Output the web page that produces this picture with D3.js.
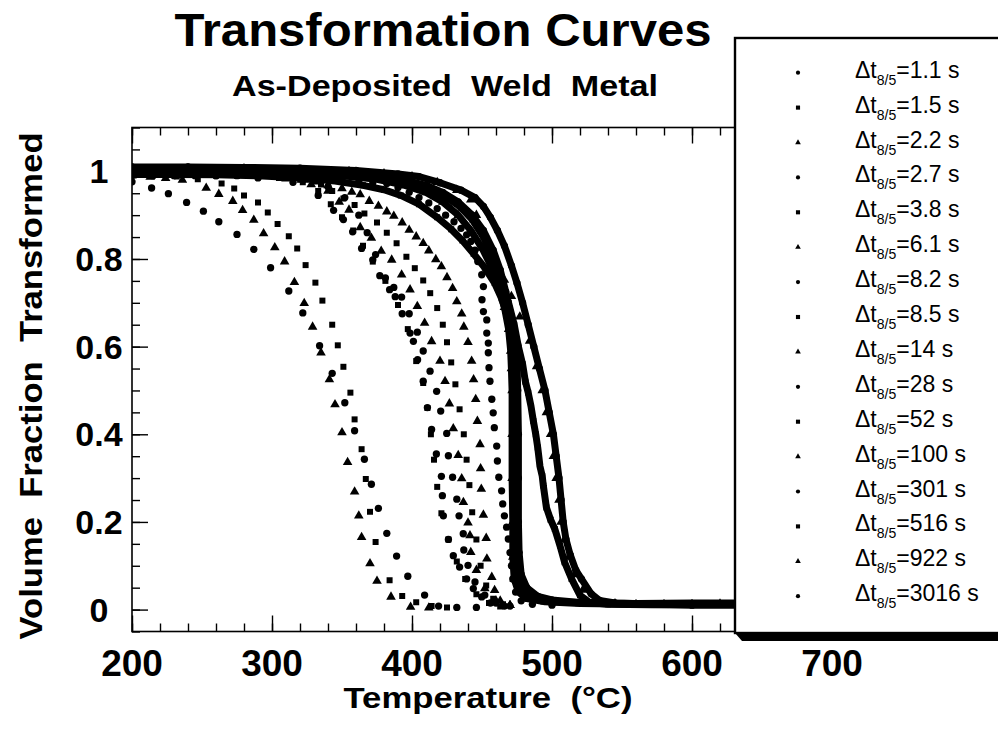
<!DOCTYPE html>
<html>
<head>
<meta charset="utf-8">
<script src="https://cdn.jsdelivr.net/npm/d3@7"></script>
<style>
  html, body { margin: 0; padding: 0; background: #fff; }
  svg { display: block; }
</style>
</head>
<body>
<svg id="chart" width="998" height="732"></svg>
<script>
// Cooling times (Δt 8/5) shown in the legend, in plotting order
const coolingTimes = ["1.1", "1.5", "2.2", "2.7", "3.8", "6.1", "8.2", "8.5", "14",
                      "28", "52", "100", "301", "516", "922", "3016"];
// Marker shape for each cooling time
const markerShapes = ["circle", "square", "triangle", "circle", "square", "triangle", "circle", "square",
                      "triangle", "circle", "square", "triangle", "circle", "square", "triangle", "circle"];
// Runs recorded so densely that the markers fuse into a solid trace
const denseRuns = ["52", "100", "301", "516", "3016"];

// [temperature °C, volume fraction transformed]
const dt1_1 = [[200,.976],[214,.962],[226,.949],[239,.929],[251,.909],[262,.885],[275,.856],[287,.822],[299,.780],[312,.727],[322,.677],[334,.602],[343,.539],[352,.472],[359,.408],[366,.343],[371,.286],[376,.231],[382,.174],[389,.122],[397,.076],[409,.033],[419,.008],[432,.005],[446,.005]];
const dt1_5 = [[205,.995],[218,.992],[232,.988],[247,.982],[264,.972],[273,.961],[280,.945],[290,.929],[297,.906],[304,.880],[312,.852],[318,.824],[324,.786],[331,.746],[336,.705],[343,.650],[347,.603],[351,.554],[356,.495],[359,.434],[364,.366],[367,.298],[370,.223],[374,.154],[384,.067],[393,.031],[403,.017],[414,.008],[425,.005]];
const dt2_2 = [[200,.99],[213,.987],[224,.984],[236,.980],[253,.962],[262,.948],[272,.932],[279,.911],[287,.889],[294,.858],[302,.826],[309,.794],[316,.747],[323,.699],[329,.645],[335,.586],[341,.525],[345,.468],[350,.404],[354,.336],[359,.269],[362,.214],[364,.165],[370,.105],[375,.065],[385,.029],[399,.006],[412,.004]];
const dt2_7 = [[230,.995],[260,.99],[290,.985],[315,.975],[333,.945],[344,.911],[351,.89],[357.6,.862],[364,.824],[372,.798],[377,.762],[384,.730],[388,.714],[393,.675],[398.6,.631],[401,.612],[404,.570],[408,.521],[411,.461],[414,.411],[417.4,.355],[421,.304],[421.7,.26],[422.4,.214],[426,.16],[429.5,.123],[434,.097],[439,.07],[443.8,.048],[449.8,.029],[456,.015],[466,.008]];
const dt3_8 = [[240,.995],[275,.99],[305,.985],[322,.975],[333,.955],[342,.925],[350,.895],[358,.865],[365,.83],[372,.794],[381,.75],[390,.695],[397,.64],[403,.567],[408,.517],[411,.46],[413.5,.4],[415.7,.342],[418,.28],[421,.22],[426,.16],[432,.11],[438,.07],[446,.035],[455,.015],[463,.007]];
const dt6_1 = [[250,.995],[285,.99],[310,.983],[328,.97],[340,.955],[348,.93],[355,.912],[363,.872],[371,.848],[378,.818],[385.5,.798],[392.6,.764],[398.6,.73],[403.8,.692],[409,.654],[414,.612],[420,.567],[423.6,.521],[426.7,.47],[429.5,.413],[433,.352],[435.5,.299],[436.7,.245],[440,.198],[441.4,.169],[442,.131],[446,.09],[452,.048],[460,.02],[470,.01]];
const dt8_2 = [[260,.995],[300,.99],[325,.982],[340,.965],[352,.94],[362,.9],[368,.86],[374,.81],[381,.757],[387,.735],[392.6,.713],[398,.675],[403.8,.633],[408,.59],[412.9,.544],[417.6,.498],[420.5,.453],[424.8,.402],[426,.351],[429,.302],[432,.252],[433.6,.214],[436.6,.173],[437,.136],[440,.101],[445,.063],[452,.033],[460,.015],[470,.008]];
const dt8_5 = [[260,.998],[300,.995],[320,.985],[335,.97],[343,.955],[351,.938],[359,.923],[366,.904],[375,.883],[382,.860],[389,.836],[396,.805],[402,.779],[408,.751],[413,.722],[418,.688],[422,.650],[425,.610],[428,.564],[431,.514],[434,.457],[437,.4],[439,.342],[441,.284],[443,.222],[446,.16],[449,.10],[453,.055],[458,.025],[465,.012]];
const dt14 = [[270,.998],[300,.993],[321,.98],[331,.976],[340,.968],[350,.961],[357,.953],[363,.947],[369.5,.932],[376,.921],[382,.908],[387,.898],[393,.883],[398,.866],[403,.851],[408,.836],[412,.819],[417,.799],[421,.783],[425,.758],[429,.733],[432,.703],[435.5,.675],[437,.645],[440,.610],[442.6,.567],[444,.525],[445.5,.48],[446.7,.43],[448.6,.377],[449,.322],[449.5,.275],[451,.216],[453,.163],[453.5,.116],[457,.074],[459,.044],[463,.02],[470,.01]];
const dt28 = [[200,.99],[215,.99],[230,.99],[245,.99],[260,.99],[275,.99],[290,.988],[305,.986],[320,.983],[335,.98],[350,.978],[362,.976],[372,.974],[382,.972],[390,.963],[398,.952],[405,.94],[412,.928],[418,.915],[424,.9],[430,.885],[435,.87],[439,.855],[442,.84],[445,.82],[447,.794],[449.8,.764],[451,.737],[450,.707],[451,.680],[453.4,.661],[453.4,.631],[454.5,.608],[454.5,.586],[455,.552],[455.7,.521],[457,.48],[458,.449],[458.8,.415],[460.5,.373],[461,.339],[462,.302],[464,.271],[464.8,.241],[466,.214],[467.6,.188],[468.8,.161],[470,.13],[471,.10],[472,.07],[474,.04],[478,.02],[486,.012],[500,.01]];
const dt52 = [[200,.993],[230,.993],[260,.992],[290,.99],[320,.985],[345,.978],[365,.968],[380,.958],[392,.945],[405,.925],[418,.895],[428,.868],[436,.842],[444,.812],[452,.78],[459,.745],[464,.71],[468,.67],[470.5,.62],[472,.56],[473,.5],[473.5,.4],[473.5,.3],[473.5,.2],[474,.12],[476,.07],[480,.04],[488,.025],[500,.018],[530,.015],[560,.014],[600,.015],[640,.015]];
const dt100 = [[200,.996],[240,.997],[280,.996],[320,.993],[350,.99],[375,.982],[395,.968],[410,.952],[422,.93],[433,.9],[442,.865],[450,.825],[457,.78],[462,.735],[466,.69],[469,.64],[470.5,.59],[471,.55],[471.5,.5],[471.5,.4],[471.5,.3],[472,.2],[472,.12],[473,.07],[476,.04],[482,.025],[495,.018],[520,.014],[560,.012],[600,.012],[640,.012]];
const dt301 = [[200,1.0],[240,1.0],[280,1.0],[320,.998],[350,.995],[375,.99],[395,.98],[410,.968],[422,.952],[433,.93],[443,.9],[451,.865],[458,.82],[463,.775],[467,.725],[470.5,.67],[473.5,.62],[475,.57],[475.5,.5],[476,.4],[476,.3],[476,.2],[476.5,.13],[478,.08],[482,.05],[490,.03],[500,.022],[520,.016],[560,.012],[600,.01],[640,.01]];
const dt516 = [[200,1.0],[240,1.0],[280,1.0],[320,.997],[350,.993],[375,.986],[395,.975],[410,.962],[423,.944],[434,.92],[443,.89],[451,.85],[458,.80],[464,.75],[469,.70],[473,.65],[476,.6],[479,.56],[481,.52],[483,.495],[485,.464],[486.7,.43],[488.4,.4],[489.8,.37],[491.4,.327],[493,.305],[493.8,.283],[495,.256],[496,.233],[499,.205],[502,.184],[505.7,.146],[509,.108],[514,.07],[520,.0325],[527,.016],[540,.012],[570,.011],[600,.012],[640,.012]];
const dt922 = [[200,1.006],[240,1.007],[280,1.006],[320,1.003],[355,1.0],[380,.995],[400,.988],[418,.975],[432,.957],[442,.935],[446,.9],[449.8,.865],[454.5,.83],[459,.797],[466,.752],[471,.715],[477,.668],[484,.613],[489,.555],[493,.5],[496,.45],[499,.4],[501,.35],[503,.3],[505,.25],[506.5,.2],[509,.16],[512,.12],[516,.08],[522,.045],[530,.022],[545,.014],[580,.012],[620,.013],[640,.013]];
const dt3016 = [[200,1.01],[240,1.01],[280,1.009],[320,1.007],[360,1.002],[390,.994],[405,.988],[420,.974],[435,.957],[445,.94],[451,.92],[456,.895],[461,.865],[466,.83],[471,.785],[475,.745],[479,.7],[483,.65],[487,.6],[491,.55],[495,.5],[498,.45],[501,.4],[503,.35],[505,.3],[506.5,.25],[508,.2],[510,.16],[513,.125],[517,.09],[521,.07],[528,.036],[534,.021],[545,.015],[570,.013],[600,.014],[640,.014]];

const allRuns = [dt1_1, dt1_5, dt2_2, dt2_7, dt3_8, dt6_1, dt8_2, dt8_5, dt14,
                 dt28, dt52, dt100, dt301, dt516, dt922, dt3016];

// Axis ticks and their labels
const xMajorTicks = [200, 300, 400, 500, 600, 700, 800];
const xTickLabels = ["200", "300", "400", "500", "600", "700"];
const yMajorTicks = [0, 0.2, 0.4, 0.6, 0.8, 1];
const yTickLabels = ["0", "0.2", "0.4", "0.6", "0.8", "1"];

const svg = d3.select("#chart");
const x = d3.scaleLinear().domain([200, 800]).range([132, 972]);
const y = d3.scaleLinear().domain([-0.05, 1.1]).range([631.5, 127.5]);

const xMinor = d3.range(200, 801, 20);
const yMinor = d3.range(-1, 23).map(i => +(i * 0.05).toFixed(2));

// Titles
const FONT = "'Liberation Sans', Arial, Helvetica, sans-serif";
svg.append("text").attr("x", 443).attr("y", 46).attr("text-anchor", "middle")
  .attr("font-family", FONT).attr("font-weight", "bold").attr("font-size", 46)
  .attr("textLength", 537).attr("lengthAdjust", "spacingAndGlyphs")
  .text("Transformation Curves");
svg.append("text").attr("x", 445).attr("y", 96).attr("text-anchor", "middle")
  .attr("font-family", FONT).attr("font-weight", "bold").attr("font-size", 29)
  .attr("textLength", 426).attr("lengthAdjust", "spacingAndGlyphs")
  .attr("xml:space", "preserve")
  .text("As-Deposited  Weld  Metal");

// Plot frame
const plot = svg.append("g");
plot.append("rect")
  .attr("x", x(200)).attr("y", y(1.1))
  .attr("width", x(800) - x(200)).attr("height", y(-0.05) - y(1.1))
  .attr("fill", "none").attr("stroke", "#000").attr("stroke-width", 1.6);

function tickAxis(axisFn, scale, values, size, transform) {
  const g = plot.append("g").attr("transform", transform)
    .call(axisFn(scale).tickValues(values).tickSize(-size).tickSizeOuter(0).tickFormat(""));
  g.select(".domain").remove();
  g.selectAll(".tick line").attr("stroke", "#000").attr("stroke-width", 1.4);
  return g;
}
tickAxis(d3.axisBottom, x, xMinor, 8, `translate(0,${y(-0.05)})`);
tickAxis(d3.axisBottom, x, xMajorTicks, 16, `translate(0,${y(-0.05)})`);
tickAxis(d3.axisTop, x, xMinor, 8, `translate(0,${y(1.1)})`);
tickAxis(d3.axisTop, x, xMajorTicks, 16, `translate(0,${y(1.1)})`);
tickAxis(d3.axisLeft, y, yMinor, 8, `translate(${x(200)},0)`);
tickAxis(d3.axisLeft, y, yMajorTicks, 16, `translate(${x(200)},0)`);

// Tick labels
svg.append("g").selectAll("text").data(xTickLabels).join("text")
  .attr("x", d => x(+d)).attr("y", 676).attr("text-anchor", "middle")
  .attr("font-family", FONT).attr("font-weight", "bold").attr("font-size", 37)
  .text(d => d);
svg.append("g").selectAll("text").data(yTickLabels).join("text")
  .attr("x", 99).attr("y", d => y(+d) + 12).attr("text-anchor", "middle")
  .attr("font-family", FONT).attr("font-weight", "bold").attr("font-size", 34)
  .text(d => d);

// Axis titles
svg.append("text").attr("x", 488).attr("y", 708).attr("text-anchor", "middle")
  .attr("font-family", FONT).attr("font-weight", "bold").attr("font-size", 30)
  .attr("textLength", 289).attr("lengthAdjust", "spacingAndGlyphs")
  .attr("xml:space", "preserve")
  .text("Temperature  (°C)");
svg.append("text").attr("transform", "translate(42,386) rotate(-90)").attr("text-anchor", "middle")
  .attr("font-family", FONT).attr("font-weight", "bold").attr("font-size", 32)
  .attr("textLength", 507).attr("lengthAdjust", "spacingAndGlyphs")
  .attr("xml:space", "preserve")
  .text("Volume  Fraction  Transformed");

// Data
svg.append("clipPath").attr("id", "plotClip").append("rect")
  .attr("x", x(200)).attr("y", y(1.1)).attr("width", x(800) - x(200)).attr("height", y(-0.05) - y(1.1));
const dataG = svg.append("g").attr("clip-path", "url(#plotClip)");

const symbolType = { circle: d3.symbolCircle, square: d3.symbolSquare, triangle: d3.symbolTriangle };
const plotSize = { circle: 42, square: 36, triangle: 40 };
const legendSize = { circle: 14, square: 17, triangle: 14 };
const line = d3.line().x(d => x(d[0])).y(d => y(d[1]));

allRuns.forEach((run, i) => {
  const shape = markerShapes[i];
  const g = dataG.append("g");
  if (denseRuns.includes(coolingTimes[i])) {
    g.append("path").attr("d", line(run)).attr("fill", "none")
      .attr("stroke", "#000").attr("stroke-width", 7).attr("stroke-linejoin", "round");
  }
  g.selectAll("path.pt").data(run).join("path").attr("class", "pt")
    .attr("transform", d => `translate(${x(d[0])},${y(d[1])})`)
    .attr("d", d3.symbol().type(symbolType[shape]).size(plotSize[shape]))
    .attr("fill", "#000");
});

// Legend box with drop shadow
const legend = svg.append("g");
legend.append("polygon")
  .attr("points", "735,633 742,641 1010,641 1010,633")
  .attr("fill", "#000");
legend.append("rect").attr("x", 735).attr("y", 38).attr("width", 290).attr("height", 595)
  .attr("fill", "#fff").attr("stroke", "#000").attr("stroke-width", 2.4);

const rowY = i => 72.7 + i * 34.9;
coolingTimes.forEach((t, i) => {
  const shape = markerShapes[i];
  legend.append("path")
    .attr("transform", `translate(798,${rowY(i)})`)
    .attr("d", d3.symbol().type(symbolType[shape]).size(legendSize[shape]))
    .attr("fill", "#000");
  const txt = legend.append("text").attr("x", 855).attr("y", rowY(i) + 5)
    .attr("font-family", FONT).attr("font-size", 23).attr("fill", "#000");
  txt.append("tspan").text("Δt");
  txt.append("tspan").attr("font-size", 14).attr("dy", 7).text("8/5");
  txt.append("tspan").attr("dy", -7).text(`=${t} s`);
});
</script>
</body>
</html>
